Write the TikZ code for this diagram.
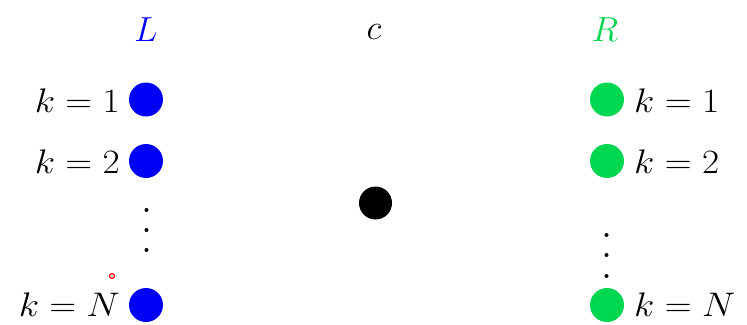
\documentclass[tikz,border=0pt]{standalone}
\usepackage{graphicx}
\usepackage{xcolor}
\definecolor{lblue}{RGB}{0,0,245}
\definecolor{rgreen}{RGB}{0,215,80}
\newcommand{\largemath}[1]{\scalebox{1.5}[1.37]{\Huge$#1$}}
\newcommand{\headmath}[1]{\scalebox{1.4}{\Huge$#1$}}
\tikzset{
  bigtxt/.style={inner sep=0pt},
  bluedot/.style={circle, fill=lblue, minimum size=34pt, inner sep=0pt},
  greendot/.style={circle, fill=rgreen, minimum size=34pt, inner sep=0pt},
  blackdot/.style={circle, fill=black, minimum size=33pt, inner sep=0pt},
  smalldot/.style={circle, fill=black, minimum size=4pt, inner sep=0pt},
}
\begin{document}
\begin{tikzpicture}[x=1pt,y=-1pt]
\useasboundingbox (0,0) rectangle (747,324);
% headings
\node[bigtxt, text=lblue] (Lh) at (146,30) {\headmath{L}};
\node[bigtxt] (ch) at (374,32) {\headmath{c}};
\node[bigtxt, text=rgreen] (Rh) at (605,30) {\headmath{R}};
% left column
\node[bluedot] (l1) at (146,99.5) {};
\node[bluedot] (l2) at (146,161) {};
\node[bluedot] (lN) at (146,305) {};
\node[bigtxt, anchor=base east] (tl1) at (120,112) {\largemath{k=1}};
\node[bigtxt, anchor=base east] (tl2) at (120,173.5) {\largemath{k=2}};
\node[bigtxt, anchor=base east] (tlN) at (120,316) {\largemath{k=N}};
\node[smalldot] (ld1) at (146.5,210) {};
\node[smalldot] (ld2) at (146.5,230) {};
\node[smalldot] (ld3) at (146.5,250) {};
% right column
\node[greendot] (r1) at (607,99.5) {};
\node[greendot] (r2) at (607,161) {};
\node[greendot] (rN) at (607,305) {};
\node[bigtxt, anchor=base west] (tr1) at (634,112) {\largemath{k=1}};
\node[bigtxt, anchor=base west] (tr2) at (634,173.5) {\largemath{k=2}};
\node[bigtxt, anchor=base west] (trN) at (634,316) {\largemath{k=N}};
\node[smalldot] (rd1) at (606.5,235) {};
\node[smalldot] (rd2) at (606.5,255) {};
\node[smalldot] (rd3) at (606.5,276) {};
% center
\node[blackdot] (cd) at (375.5,203) {};
% pointer mark
\node[circle, draw=red, line width=1.1pt, minimum size=5pt, inner sep=0pt] (ptr) at (112,276) {};
\end{tikzpicture}
\end{document}
